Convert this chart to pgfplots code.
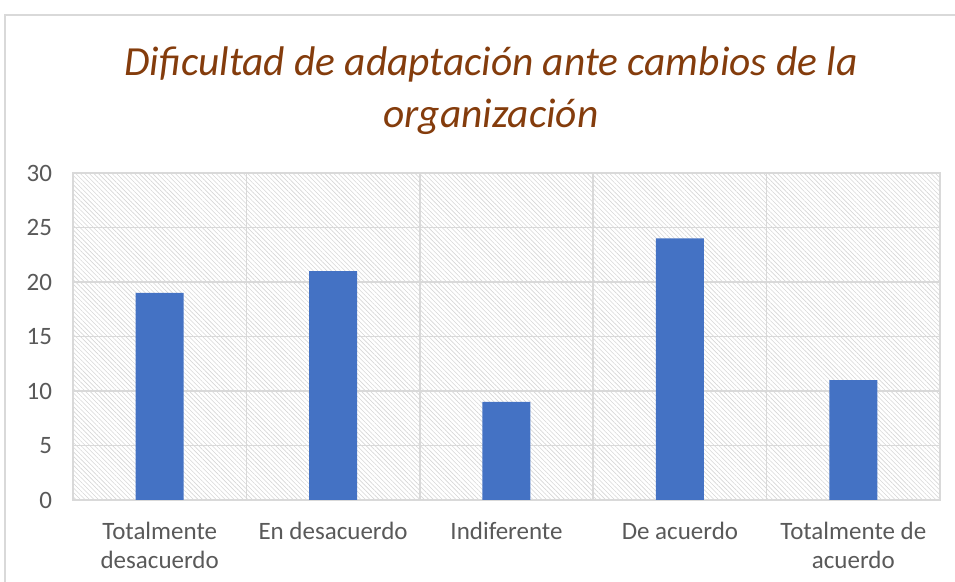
\documentclass[border=0pt]{standalone}
\usepackage{fontspec}
\setmainfont{Carlito}
\usepackage{pgfplots}
\pgfplotsset{compat=1.18}
\usetikzlibrary{patterns.meta}
\definecolor{barblue}{HTML}{4472C4}
\definecolor{gridgray}{HTML}{D9D9D9}
\definecolor{txtgray}{HTML}{595959}
\definecolor{titlebrown}{HTML}{843C0C}
\begin{document}
\begin{tikzpicture}
\useasboundingbox (-36.5pt,-41pt) rectangle (441pt,250pt);
\draw[gridgray, line width=0.75pt] (-34pt,-41pt) -- (-34pt,242.5pt) -- (441pt,242.5pt);
\begin{axis}[
 scale only axis, width=433.5pt, height=163.5pt,
 xmin=-0.5, xmax=4.5, ymin=0, ymax=30,
 ytick={0,5,...,30},
 xtick={0,1,2,3,4},
 xticklabels={{Totalmente\\desacuerdo},{En desacuerdo},{Indiferente},{De acuerdo},{Totalmente de\\acuerdo}},
 minor xtick={0.5,1.5,2.5,3.5},
 ymajorgrids, xminorgrids,
 grid style={gridgray, line width=0.75pt},
 minor grid style={gridgray, line width=0.75pt},
 axis line style={gridgray, line width=0.75pt},
 major tick length=0pt, minor tick length=0pt,
 tick style={draw=none},
 ticklabel style={font=\fontsize{12.5}{14.5}\selectfont, text=txtgray},
 xticklabel style={align=center, anchor=north, yshift=-7.5pt},
 yticklabel style={xshift=-7pt},
 /pgf/number format/assume math mode=true,
 axis background/.style={pattern={Lines[angle=-45,distance=1.6pt,line width=0.3pt]}, pattern color=gray!32},
]
\addplot[ybar, bar width=24pt, fill=barblue, draw=none] coordinates {(0,19) (1,21) (2,9) (3,24) (4,11)};
\end{axis}
\node[anchor=base, font=\fontsize{20.7}{26}\selectfont\itshape, text=titlebrown] at (209pt,212pt) {Dificultad de adaptación ante cambios de la};
\node[anchor=base, font=\fontsize{20.7}{26}\selectfont\itshape, text=titlebrown] at (209pt,186pt) {organización};
\end{tikzpicture}
\end{document}
